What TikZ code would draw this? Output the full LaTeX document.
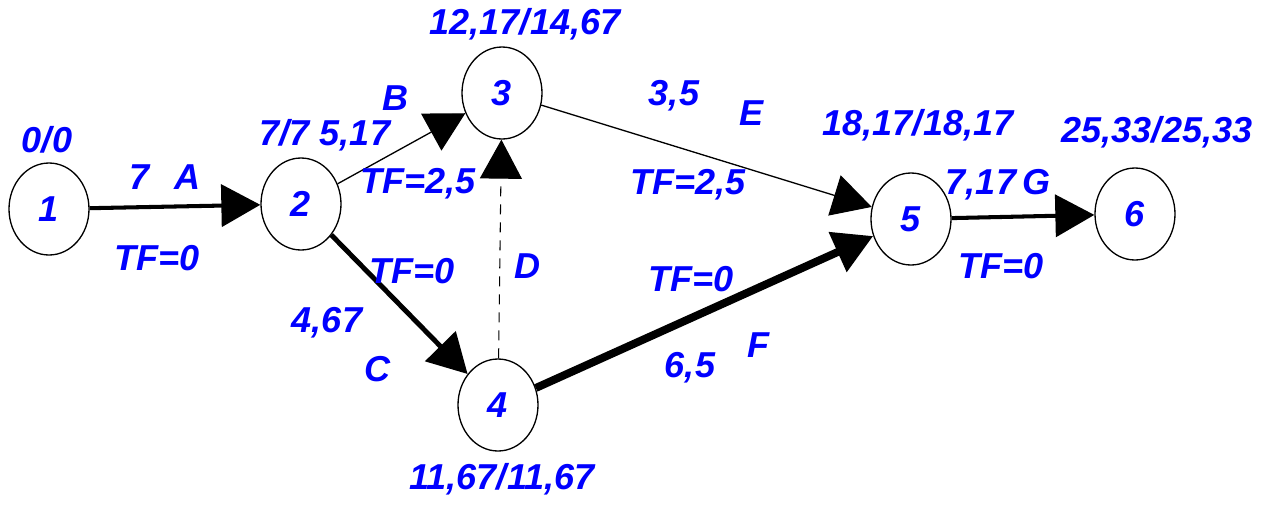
\documentclass[tikz,border=0pt]{standalone}
\usepackage{fontspec}
\setmainfont{Liberation Sans}
\usetikzlibrary{shapes.geometric,arrows.meta}

\newcommand{\netfont}{\fontsize{20.5}{24}\selectfont\bfseries\itshape}
\tikzset{
  event/.style={ellipse, draw, line width=0.75pt, minimum width=1.6cm, minimum height=1.84cm, inner sep=0pt, text=blue, font=\netfont},
  lbl/.style={text=blue, font=\netfont, inner sep=0pt},
  tip/.style={-{Triangle[length=0.78cm,width=0.84cm]}},
}

\begin{document}
\begin{tikzpicture}[x=0.2mm,y=-0.2mm]
    \useasboundingbox (0,0) rectangle (1273,504);
    % events
    \node[event] (n1) at (49,209) {1};
    \node[event] (n2) at (301,204) {2};
    \node[event] (n3) at (502,93) {3};
    \node[event] (n4) at (498,405) {4};
    \node[event] (n5) at (911,219) {5};
    \node[event] (n6) at (1135,214) {6};

    % activities
    \draw[tip, line width=2.3pt] (n1) -- (n2);
    \draw[tip, line width=0.75pt] (n2) -- (n3);
    \draw[tip, line width=2.8pt] (n2) -- (n4);
    \draw[tip, line width=0.6pt, dash pattern=on 2mm off 1.6mm] (n4) -- (n3);
    \draw[tip, line width=0.75pt] (n3) -- (n5);
    \draw[tip, line width=4.5pt] (n4) -- (n5);
    \draw[tip, line width=2.3pt] (n5) -- (n6);

    % event times
    \node[lbl] (t1) at (47,140) {0/0};
    \node[lbl] (t2) at (325,135) {7/7 5,17};
    \node[lbl] (t3) at (525,24) {12,17/14,67};
    \node[lbl] (t4) at (502,479) {11,67/11,67};
    \node[lbl] (t5) at (918,125) {18,17/18,17};
    \node[lbl] (t6) at (1157,132) {25,33/25,33};

    % activity labels
    \node[lbl] (wA) at (165,177) {7\hspace{0.7em}A};
    \node[lbl] (tfA) at (157,258) {TF=0};
    \node[lbl] (wB) at (396,98) {B};
    \node[lbl] (tfB) at (418,184) {TF=2,5};
    \node[lbl] (tfC) at (412,271) {TF=0};
    \node[lbl] (dC) at (327,323) {4,67};
    \node[lbl] (wC) at (378,369) {C};
    \node[lbl] (wD) at (528,266) {D};
    \node[lbl] (dE) at (674,96) {3,5};
    \node[lbl] (wE) at (752,113) {E};
    \node[lbl] (tfE) at (688,185) {TF=2,5};
    \node[lbl] (tfF) at (691,279) {TF=0};
    \node[lbl] (dF) at (690,368) {6,5};
    \node[lbl] (wF) at (758,345) {F};
    \node[lbl] (wG) at (998,185) {7,17\,G};
    \node[lbl] (tfG) at (1001,266) {TF=0};
\end{tikzpicture}
\end{document}
